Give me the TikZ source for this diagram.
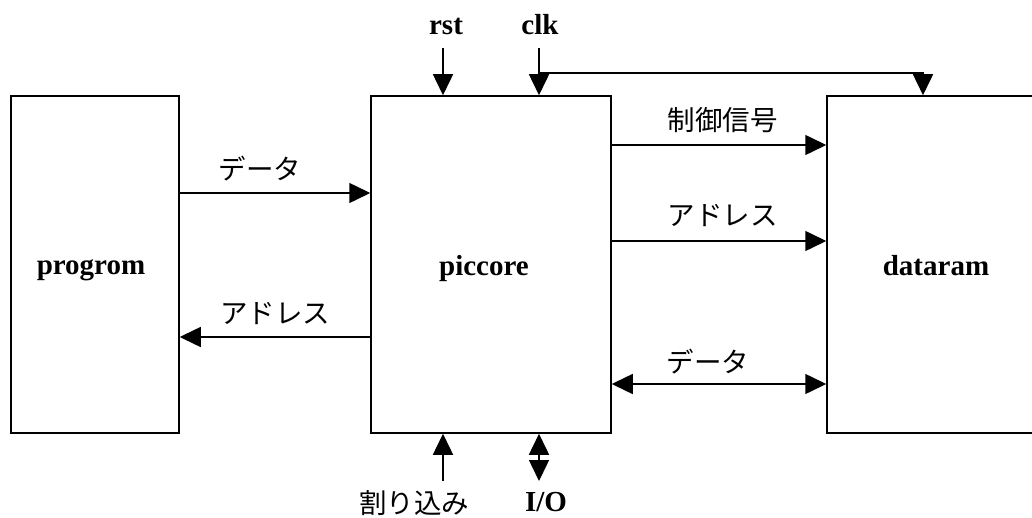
\documentclass[tikz,border=0pt]{standalone}
\usepackage{fontspec}
\setmainfont{Liberation Serif}
\newfontfamily\jp{Noto Sans CJK JP}
\usetikzlibrary{arrows.meta}
\begin{document}
\begin{tikzpicture}[x=1pt,y=-1pt,
  box/.style={draw,line width=1.5pt,inner sep=0pt},
  en/.style={font=\fontsize{29}{32}\selectfont\bfseries,inner sep=0pt,anchor=base},
  ja/.style={font=\jp\fontsize{27.5}{30}\selectfont,inner sep=1pt},
  wire/.style={line width=1.5pt},
  arr/.style={wire,-{Triangle[length=21pt,width=20pt]}},
  darr/.style={wire,{Triangle[length=21pt,width=20pt]}-{Triangle[length=21pt,width=20pt]}}]
\useasboundingbox (0,0) rectangle (1032,518);
\node[box,minimum width=168pt,minimum height=337pt] (progrom) at (95,264.5) {};
\node[box,minimum width=240pt,minimum height=337pt] (piccore) at (491,264.5) {};
\node[box,minimum width=208pt,minimum height=337pt] (dataram) at (931,264.5) {};
\node[en] (tprog) at (91,275) {progrom};
\node[en] (tpic) at (484,276) {piccore};
\node[en] (tdata) at (936,276) {dataram};
% labels
\node[en] (rst) at (446,35) {rst};
\node[en] (clk) at (540,35) {clk};
\node[ja] (lctrl) at (722.5,120.5) {制御信号};
\node[ja] (laddr) at (722.5,216) {アドレス};
\node[ja] (ldata) at (708,361.5) {データ};
\node[ja] (ldatal) at (260,168.5) {データ};
\node[ja] (laddrl) at (275,313.5) {アドレス};
\node[ja] (lint) at (414,503) {割り込み};
\node[en] (lio) at (546,511) {I/O};
% coordinates
\coordinate (rsttop) at (443,48);
\coordinate (clktop) at (539,48);
\coordinate (clkbr) at (539,73);
\coordinate (clkcorner) at (923,73);
\coordinate (inttop) at (443,481);
\coordinate (iobot) at (539,481);
\coordinate (y1) at (0,145);
\coordinate (y2) at (0,241);
\coordinate (y3) at (0,384);
\coordinate (y4) at (0,193);
\coordinate (y5) at (0,337);
% connectors
\draw[arr] (rsttop) -- (rsttop |- piccore.north);
\draw[arr] (clktop) -- (clktop |- piccore.north);
\draw[arr] (clkbr) -- (clkcorner) -- (clkcorner |- dataram.north);
\draw[arr] (piccore.east |- y1) -- (dataram.west |- y1);
\draw[arr] (piccore.east |- y2) -- (dataram.west |- y2);
\draw[darr] (piccore.east |- y3) -- (dataram.west |- y3);
\draw[arr] (progrom.east |- y4) -- (piccore.west |- y4);
\draw[arr] (piccore.west |- y5) -- (progrom.east |- y5);
\draw[arr] (inttop) -- (inttop |- piccore.south);
\draw[darr] (iobot) -- (iobot |- piccore.south);
\end{tikzpicture}
\end{document}
